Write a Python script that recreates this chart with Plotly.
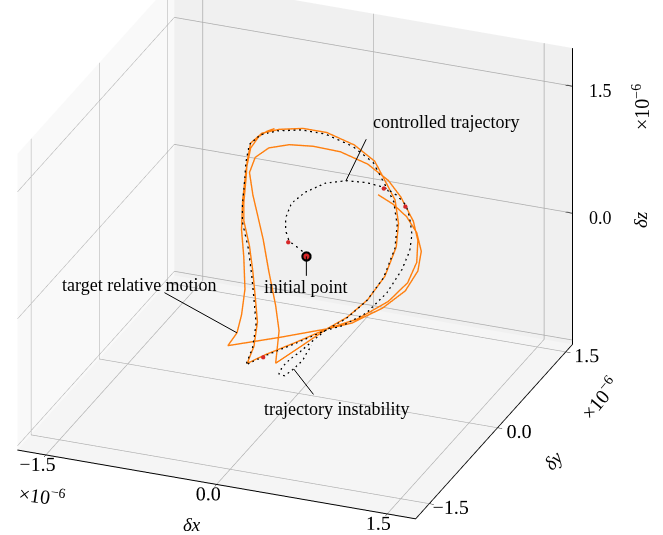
import plotly.graph_objects as go

# Target relative motion (units of 1e-6), several revolutions of the drifting orbit
target_x = [-0.21, -0.28, -0.35, -0.42, -0.46, -0.49, -0.50, -0.48, -0.47, -0.50, -0.54, -0.62,
            -0.15, 0.25,
            0.52, 0.79, 0.96, 1.04, 1.05, 1.01, 0.90, 0.79, 0.61, 0.37, 0.13, -0.08, -0.26, -0.38,
            -0.43, -0.40, -0.36, -0.31, -0.26, -0.20, -0.17, -0.20, 0.03, 0.25,
            0.43, 0.61, 0.76, 0.86, 0.88, 0.85, 0.77, 0.67, 0.49, 0.25, 0.04, -0.17, -0.32, -0.42,
            -0.45, -0.46, -0.48, -0.48, -0.43, -0.40, -0.38, -0.36, -0.39, -0.45, -0.29, -0.02, 0.25,
            0.47, 0.74, 0.94, 1.05, 1.08, 1.04, 0.95, 0.83, 0.70]
target_y = [0.0, 0.0, 0.0, 0.0, 0.0, 0.0, 0.0, 0.0, 0.0, 0.0, 0.0, 0.0,
            0.0, 0.0,
            0.0, 0.0, 0.0, 0.0, 0.0, 0.0, 0.0, 0.0, 0.0, 0.0, 0.0, 0.0, 0.0, 0.0,
            0.0, 0.0, 0.0, 0.0, 0.0, 0.0, 0.0, 0.0, 0.0, 0.0,
            0.0, 0.0, 0.0, 0.0, 0.0, 0.0, 0.0, 0.0, 0.0, 0.0, 0.0, 0.0, 0.0, 0.0,
            0.0, 0.0, 0.0, 0.0, 0.0, 0.0, 0.0, 0.0, 0.0, 0.0, 0.0, 0.0, 0.0,
            0.0, 0.0, 0.0, 0.0, 0.0, 0.0, 0.0, 0.0, 0.0]
target_z = [1.53, 1.48, 1.40, 1.25, 0.98, 0.62, 0.27, -0.05, -0.43, -0.74, -0.96, -1.13,
            -0.92, -0.73,
            -0.55, -0.28, -0.02, 0.24, 0.50, 0.72, 0.98, 1.15, 1.30, 1.39, 1.40, 1.37, 1.29, 1.15,
            0.96, 0.70, 0.48, 0.20, -0.17, -0.56, -0.85, -1.24, -0.98, -0.73,
            -0.55, -0.30, 0.01, 0.38, 0.66, 0.93, 1.12, 1.35, 1.50, 1.59, 1.59, 1.53, 1.45, 1.31,
            1.09, 0.89, 0.59, 0.38, 0.09, -0.21, -0.49, -0.79, -1.08, -1.30, -1.16, -0.95, -0.73,
            -0.61, -0.37, -0.12, 0.14, 0.38, 0.59, 0.76, 0.88, 0.96]

# Controlled trajectory from the initial point
ctrl_x = [0.09, 0.01, -0.07, -0.10, -0.10, -0.05, 0.07, 0.25, 0.43, 0.61, 0.77, 0.88, 0.96, 0.99,
          1.01, 0.99, 0.92, 0.79, 0.61, 0.40, 0.25, -0.02, -0.29, -0.45,
          -0.39, -0.36, -0.38, -0.40, -0.43, -0.48, -0.48, -0.46, -0.45, -0.42, -0.32, -0.17, 0.04,
          0.25, 0.49, 0.67, 0.77, 0.85, 0.88, 0.86, 0.76, 0.61, 0.43, 0.25,
          0.13, 0.03, -0.06, -0.13, -0.16, -0.11, -0.03, 0.05, 0.09, 0.13]
ctrl_y = [-0.03, -0.03, -0.03, -0.03, -0.03, -0.03, -0.03, -0.03, -0.03, -0.03, -0.03, -0.03,
          -0.03, -0.03, -0.03, -0.03, -0.03, -0.03, -0.03, -0.03, -0.03, -0.03, -0.03, -0.03,
          -0.03, -0.03, -0.03, -0.03, -0.03, -0.03, -0.03, -0.03, -0.03, -0.03, -0.03, -0.03,
          -0.03, -0.03, -0.03, -0.03, -0.03, -0.03, -0.03, -0.03, -0.03, -0.03, -0.03, -0.03,
          -0.03, -0.03, -0.03, -0.03, -0.03, -0.03, -0.03, -0.03, -0.03, -0.03]
ctrl_z = [0.12, 0.19, 0.25, 0.37, 0.52, 0.70, 0.86, 1.01, 1.08, 1.10, 1.08, 1.01, 0.91, 0.77,
          0.58, 0.38, 0.14, -0.16, -0.44, -0.64, -0.73, -0.95, -1.16, -1.30,
          -1.08, -0.79, -0.49, -0.21, 0.09, 0.38, 0.59, 0.89, 1.09, 1.31, 1.45, 1.53, 1.59,
          1.59, 1.50, 1.35, 1.12, 0.93, 0.66, 0.38, 0.01, -0.30, -0.55, -0.73,
          -0.89, -1.03, -1.14, -1.25, -1.34, -1.35, -1.25, -1.13, -1.02, -0.94]

# Impulse locations along the controlled trajectory
burn_x = [-0.07, 0.77, 0.96, -0.29]
burn_y = [-0.05, -0.05, -0.05, -0.05]
burn_z = [0.25, 1.08, 0.91, -1.16]

# Initial point
init_x = [0.09]
init_y = [-0.05]
init_z = [0.12]

tick_vals = [-1.5, 0.0, 1.5]
tick_text = ["\u22121.5", "0.0", "1.5"]
x_range = [-1.75, 1.75]
y_range = [-1.8, 1.65]
z_range = [-1.55, 1.95]

FONT = "Liberation Serif"
ORANGE = "#ff7f0e"
RED = "#d62728"

fig = go.Figure()
fig.add_trace(go.Scatter3d(x=target_x, y=target_y, z=target_z, mode="lines",
                           line=dict(color=ORANGE, width=2.8), hoverinfo="skip"))
fig.add_trace(go.Scatter3d(x=ctrl_x, y=ctrl_y, z=ctrl_z, mode="lines",
                           line=dict(color="black", width=2.5, dash="dot"), hoverinfo="skip"))
fig.add_trace(go.Scatter3d(x=burn_x, y=burn_y, z=burn_z, mode="markers",
                           marker=dict(color=RED, size=2.5), hoverinfo="skip"))
fig.add_trace(go.Scatter3d(x=init_x, y=init_y, z=init_z, mode="markers",
                           marker=dict(color="black", size=6), hoverinfo="skip"))
fig.add_trace(go.Scatter3d(x=init_x, y=init_y, z=init_z, mode="markers",
                           marker=dict(color=RED, size=3.5), hoverinfo="skip"))

# Vertical axis drawn on the back-right edge of the box, with its tick marks
zx, zy = x_range[1], y_range[1]
zline_x = [zx, zx, None]
zline_y = [zy, zy, None]
zline_z = [z_range[0], z_range[1], None]
for t in tick_vals[1:]:
    zline_x += [zx - 0.06, zx + 0.1, None]
    zline_y += [zy, zy, None]
    zline_z += [t, t, None]
fig.add_trace(go.Scatter3d(x=zline_x, y=zline_y, z=zline_z, mode="lines",
                           line=dict(color="black", width=2), hoverinfo="skip"))


def axis(rng, bg, show=True):
    return dict(range=rng, tickvals=tick_vals, ticktext=tick_text, tickangle=0,
                tickfont=dict(family=FONT, size=15.5, color="black"),
                title=dict(text=""), showbackground=True, backgroundcolor=bg,
                gridcolor="rgb(172,172,172)", gridwidth=1.5, zeroline=False,
                showline=show, linecolor="black", linewidth=2,
                ticks="outside" if show else "", ticklen=5, tickcolor="black",
                showticklabels=show, showspikes=False, autorange=False)


def label(px, py, pz, text, dx, dy):
    return dict(x=px, y=py, z=pz, text=text, showarrow=False, xshift=dx, yshift=dy,
                font=dict(family=FONT, size=18, color="black"))


def leader(px, py, pz, ax, ay):
    return dict(x=px, y=py, z=pz, text="", showarrow=True, arrowhead=0, arrowwidth=1,
                arrowcolor="black", ax=ax, ay=ay, standoff=0, startstandoff=0)


scene_ann = [
    leader(ctrl_x[8], ctrl_y[8], ctrl_z[8], 21, -43),
    label(ctrl_x[8], ctrl_y[8], ctrl_z[8], "controlled trajectory", 100, 59),
    leader(init_x[0], init_y[0], init_z[0], 0, 21),
    label(init_x[0], init_y[0], init_z[0], "initial point", 0, -31),
    leader(target_x[10], target_y[10], target_z[10], -74, -41),
    label(target_x[10], target_y[10], target_z[10], "target relative motion", -97, 48),
    leader(ctrl_x[54], ctrl_y[54], ctrl_z[54], 21, 27),
    label(ctrl_x[54], ctrl_y[54], ctrl_z[54], "trajectory instability", 43, -40),
]
for t, s in zip(tick_vals[1:], tick_text[1:]):
    scene_ann.append(dict(x=zx, y=zy, z=t, text=s, showarrow=False, xshift=28, yshift=-5,
                          font=dict(family=FONT, size=18, color="black")))

paper_ann = [
    dict(x=42, y=495, text="\u00d710<sup>\u22126</sup>", textangle=8, size=20),
    dict(x=599, y=398, text="\u00d710<sup>\u22126</sup>", textangle=-50, size=20),
    dict(x=641, y=107, text="\u00d710<sup>\u22126</sup>", textangle=-90, size=20),
    dict(x=192, y=524, text="<i>\u03b4x</i>", textangle=0, size=19),
    dict(x=553, y=460, text="<i>\u03b4y</i>", textangle=-48, size=19),
    dict(x=640, y=220, text="<i>\u03b4z</i>", textangle=-90, size=19),
]
annotations = []
for a in paper_ann:
    annotations.append(dict(x=a["x"] / 663, y=1 - a["y"] / 535, xref="paper", yref="paper",
                            text=a["text"], textangle=a["textangle"], showarrow=False,
                            xanchor="center", yanchor="middle",
                            font=dict(family=FONT, size=a["size"], color="black")))

fig.update_layout(
    width=663, height=535, margin=dict(l=0, r=0, t=0, b=0),
    paper_bgcolor="white", showlegend=False,
    annotations=annotations,
    scene=dict(
        domain=dict(x=[0, 1], y=[0, 1]),
        xaxis=axis(x_range, "rgb(249,249,249)"),
        yaxis=axis(y_range, "rgb(240,240,240)"),
        zaxis=axis(z_range, "rgb(245,245,245)", show=False),
        aspectmode="manual", aspectratio=dict(x=1.6, y=1.6, z=1.232),
        camera=dict(eye=dict(x=0.962, y=-2.069, z=1.034),
                    center=dict(x=0.138, y=0.022, z=-0.062),
                    up=dict(x=0, y=0, z=1), projection=dict(type="orthographic")),
        annotations=scene_ann,
    ),
)

fig.write_html("out.html")
